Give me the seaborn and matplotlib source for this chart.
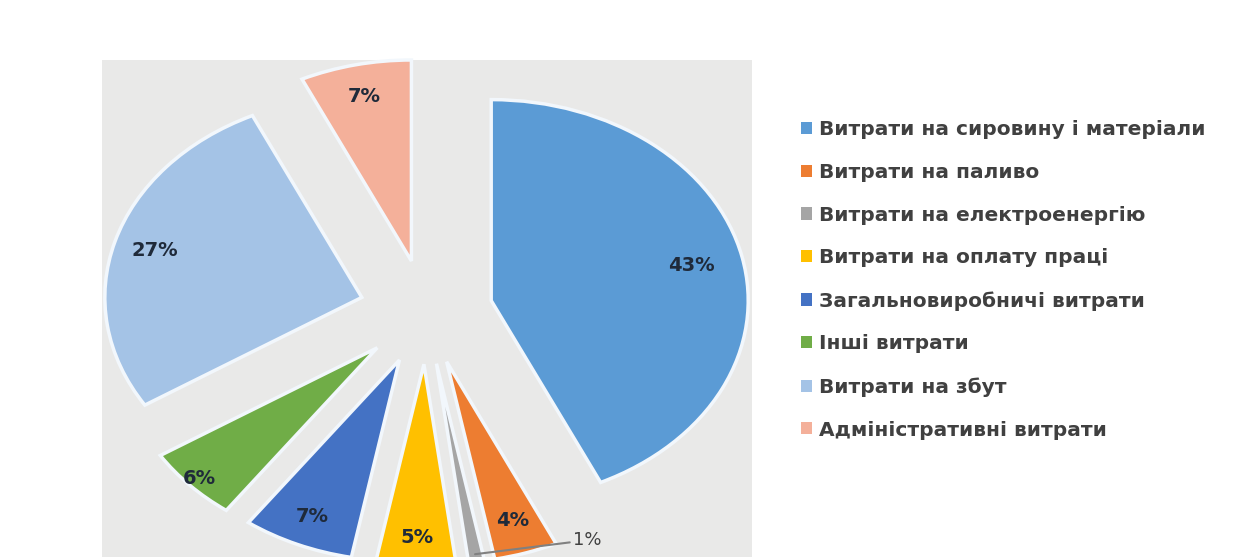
import numpy as np
import matplotlib
matplotlib.use("Agg")
import matplotlib.pyplot as plt
import seaborn as sns

categories = [
    "Витрати на сировину і матеріали",
    "Витрати на паливо",
    "Витрати на електроенергію",
    "Витрати на оплату праці",
    "Загальновиробничі витрати",
    "Інші витрати",
    "Витрати на збут",
    "Адміністративні витрати",
]
values = [43, 4, 1, 5, 7, 6, 27, 7]
colors = ["#5B9BD5", "#ED7D31", "#A5A5A5", "#FFC000", "#4472C4", "#70AD47", "#A4C3E6", "#F4B09A"]
# label placement (fraction of radius from each exploded wedge's apex)
label_dist = [0.80, 0.83, 0.86, 0.86, 0.85, 0.95, 0.84, 0.84]

sns.set_theme(style="white")
plt.rcParams['font.family'] = ['DejaVu Sans']

W, H = 1237, 557
fig = plt.figure(figsize=(W / 100, H / 100), dpi=100)
fig.patch.set_facecolor("white")

# plot area (stretched horizontally as in the reference)
left_px, right_px, top_px, bot_px = 102, 752, 60, 557
ax = fig.add_axes([left_px / W, 0, (right_px - left_px) / W, (bot_px - top_px) / H])
ax.set_facecolor("#e9e9e8")

cx_px, cy_px = 426, 312
sx, sy = 257.0, 201.0

wedges, texts, autotexts = ax.pie(
    values,
    colors=colors,
    explode=[0.26] * len(values),
    startangle=90,
    counterclock=False,
    autopct=lambda p: f"{p:.0f}%",
    pctdistance=0.85,
    wedgeprops=dict(edgecolor="#f2f7fc", linewidth=2.5),
    textprops=dict(fontsize=14, fontweight="bold", color="#1f2a3a"),
    frame=True,
)
ax.set_xlim((left_px - cx_px) / sx, (right_px - cx_px) / sx)
ax.set_ylim(-(bot_px - cy_px) / sy, (cy_px - top_px) / sy)
ax.set_aspect("auto")
for s in ax.spines.values():
    s.set_visible(False)
ax.set_xticks([])
ax.set_yticks([])

# reposition percentage labels along each wedge's bisector
for w, t, d in zip(wedges, autotexts, label_dist):
    th = np.deg2rad((w.theta1 + w.theta2) / 2)
    cxw, cyw = w.center
    t.set_position((cxw + d * w.r * np.cos(th), cyw + d * w.r * np.sin(th)))

# small 1% slice: label outside with leader line
idx = 2
w = wedges[idx]
autotexts[idx].set_visible(False)
th = np.deg2rad((w.theta1 + w.theta2) / 2)
cxw, cyw = w.center
px = cxw + 0.96 * w.r * np.cos(th)
py = cyw + 0.96 * w.r * np.sin(th)
ax.annotate(f"{values[idx]}%", xy=(px, py), xytext=(98, 14), textcoords="offset pixels",
            fontsize=13, color="#404040", va="center", ha="left",
            arrowprops=dict(arrowstyle="-", color="#808080", lw=1.5, shrinkA=0, shrinkB=0))

leg = fig.legend(
    wedges, categories,
    loc="upper left",
    bbox_to_anchor=(793 / W, 1 - 112 / H),
    frameon=False,
    fontsize=14.5,
    handlelength=0.55,
    handleheight=0.55,
    handletextpad=0.35,
    labelspacing=1.18,
    borderaxespad=0,
)
for t in leg.get_texts():
    t.set_color("#404040")
    t.set_fontweight("bold")
for h in leg.legend_handles:
    h.set_edgecolor("none")

fig.savefig("out.png", dpi=100, facecolor="white")
